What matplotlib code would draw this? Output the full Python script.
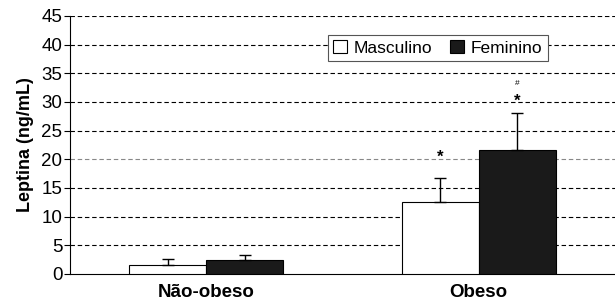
import matplotlib.pyplot as plt
import numpy as np

plt.rcParams["font.family"] = ["Liberation Sans", "DejaVu Sans"]

groups = ["Não-obeso", "Obeso"]
series = ["Masculino", "Feminino"]
masculino = [1.6, 12.6]
feminino = [2.5, 21.7]
masculino_err = [1.0, 4.2]
feminino_err = [0.9, 6.3]
yticks = [0, 5, 10, 15, 20, 25, 30, 35, 40, 45]

fig = plt.figure(figsize=(6.15, 3.0), dpi=100)
ax = fig.add_axes([70 / 615, 26 / 300, 545 / 615, 258 / 300])

x = np.arange(len(groups))
width = 0.283
ax.bar(x - width / 2, masculino, width, color="white", edgecolor="black", linewidth=0.8,
       label=series[0], zorder=3)
ax.bar(x + width / 2, feminino, width, color="#1a1a1a", edgecolor="black", linewidth=0.8,
       label=series[1], zorder=3)
err_kw = dict(fmt="none", ecolor="black", elinewidth=1.0, capsize=4, capthick=1.0, zorder=4)
ax.errorbar(x - width / 2, masculino, yerr=[np.zeros(2), masculino_err], **err_kw)
ax.errorbar(x + width / 2, feminino, yerr=[np.zeros(2), feminino_err], **err_kw)

# significance marks
ax.text(1 - width / 2, 20.4, "*", ha="center", va="center", fontsize=12, fontweight="bold")
ax.text(1 + width / 2, 30.1, "*", ha="center", va="center", fontsize=12, fontweight="bold")
ax.text(1 + width / 2, 33.2, "#", ha="center", va="center", fontsize=6)

ax.set_xlim(-0.5, 1.5)
ax.set_ylim(0, 45)
ax.set_yticks(yticks)
ax.set_xticks(x)
ax.set_xticklabels(groups, fontsize=13.5, fontweight="bold")
ax.tick_params(axis="y", labelsize=13.5, length=4, width=0.8, pad=1.5)
ax.tick_params(axis="x", length=0, pad=7)
for t in yticks[1:]:
    ax.axhline(t, color="#888888" if t == 20 else "black", linestyle=(0, (4, 2.5)),
               linewidth=0.8, zorder=1)
ax.spines["top"].set_visible(False)
ax.spines["right"].set_visible(False)
ax.spines["left"].set_linewidth(0.8)
ax.spines["bottom"].set_linewidth(0.8)
ax.set_ylabel("Leptina (ng/mL)", fontsize=13, fontweight="bold", labelpad=5)

leg = ax.legend(loc="upper left", bbox_to_anchor=(258 / 545, 1 - 19 / 258), ncol=2,
                frameon=True, fancybox=False, edgecolor="#555555", fontsize=12.5,
                handlelength=0.8, handleheight=0.8, handletextpad=0.4, columnspacing=1.0,
                borderpad=0.3, borderaxespad=0)
leg.get_frame().set_linewidth(0.8)
leg.get_frame().set_alpha(1)

fig.savefig("out.png", dpi=100)
